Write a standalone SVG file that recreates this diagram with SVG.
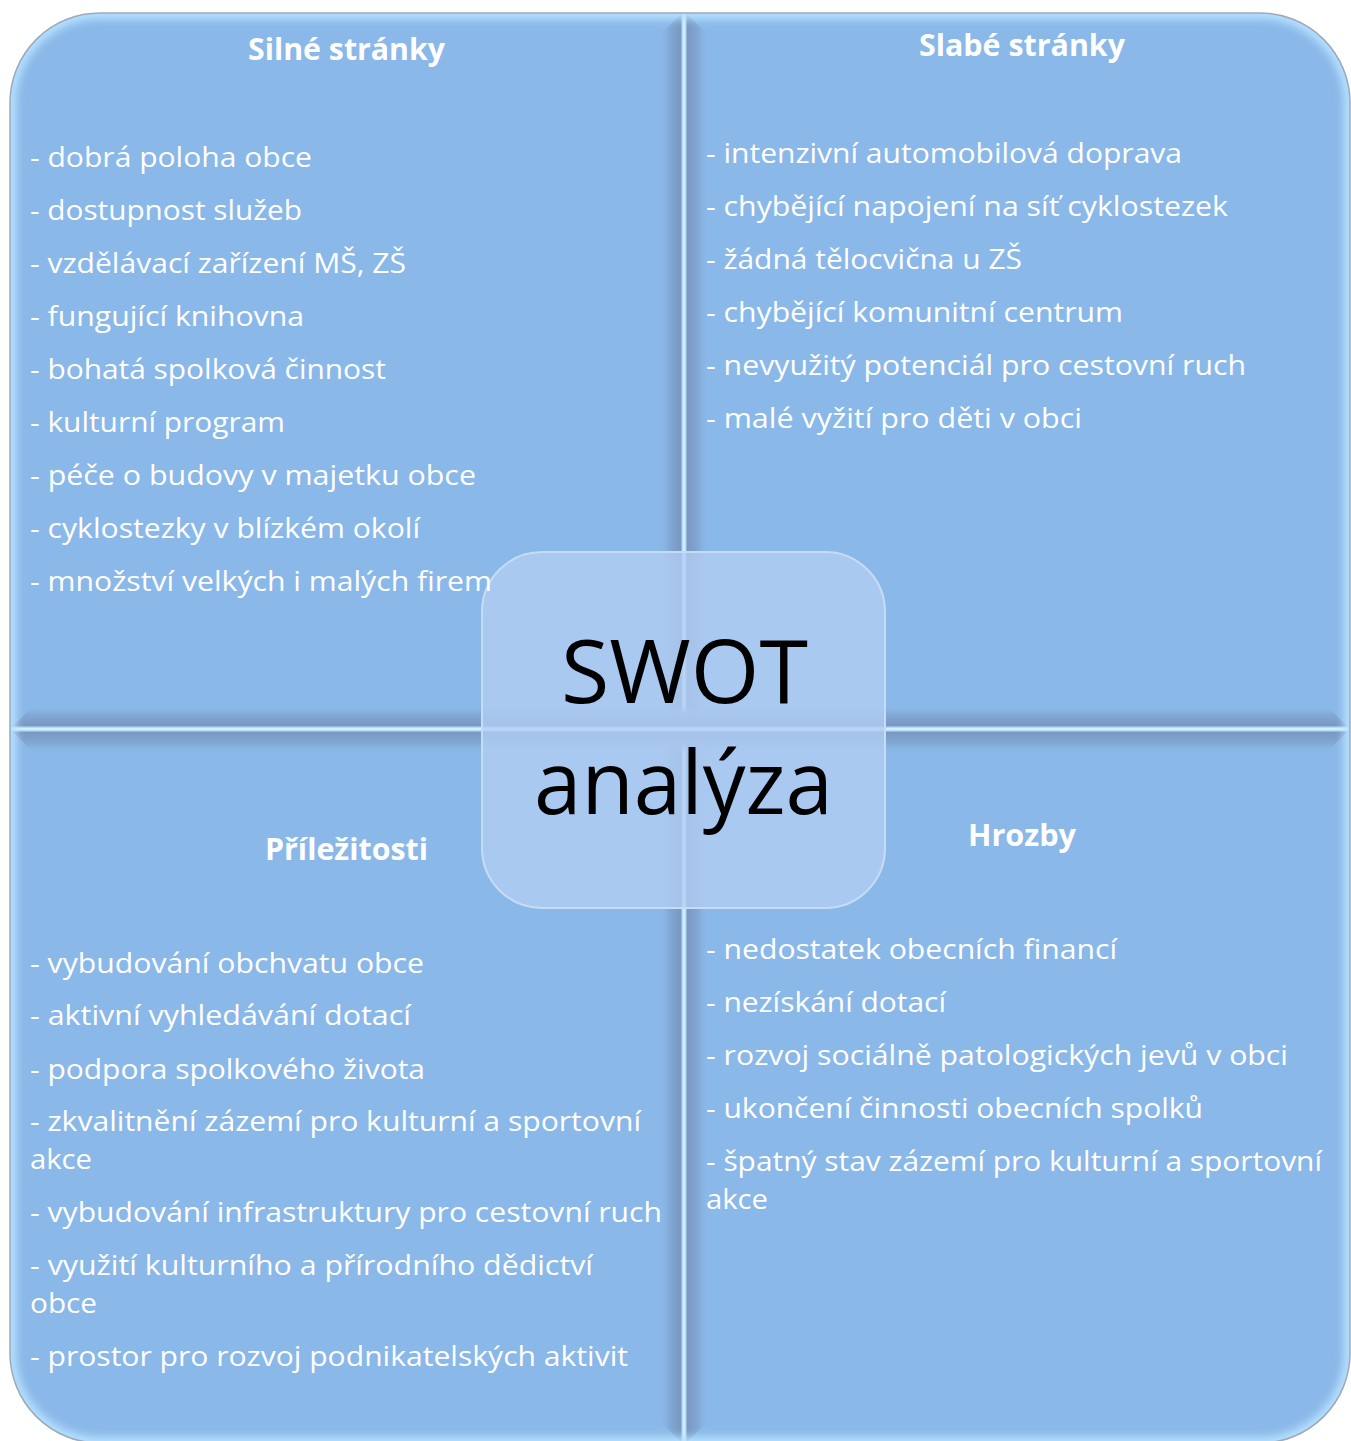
<svg xmlns="http://www.w3.org/2000/svg" width="1351" height="1441" viewBox="0 0 1351 1441">
  <style>
    .q { fill: #8AB8E8; }
    .t { font-family: "Open Sans", "Noto Sans", sans-serif; font-size: 28px; fill: #FFFFFF; }
    .h { font-family: "Open Sans", "Noto Sans", sans-serif; font-size: 31px; font-weight: bold; fill: #FFFFFF; }
    .c { font-family: "Open Sans", "Noto Sans", sans-serif; font-size: 88px; fill: #000000; }
  </style>
  <defs>
    <clipPath id="outerClip">
      <rect x="10" y="13" width="1340" height="1430" rx="90" ry="90"/>
    </clipPath>
    <filter id="blur4" x="-5%" y="-5%" width="110%" height="110%">
      <feGaussianBlur stdDeviation="4"/>
    </filter>
    <linearGradient id="vband" gradientUnits="userSpaceOnUse" x1="660" y1="0" x2="708" y2="0">
      <stop offset="0" stop-color="#8AB8E8" stop-opacity="0"/>
      <stop offset="0.2" stop-color="#82A8D5"/>
      <stop offset="0.43" stop-color="#7898C0"/>
      <stop offset="0.46" stop-color="#A6D2FA"/>
      <stop offset="0.5" stop-color="#E6F7FF"/>
      <stop offset="0.54" stop-color="#A6D2FA"/>
      <stop offset="0.57" stop-color="#7898C0"/>
      <stop offset="0.8" stop-color="#82A8D5"/>
      <stop offset="1" stop-color="#8AB8E8" stop-opacity="0"/>
    </linearGradient>
    <linearGradient id="hband" gradientUnits="userSpaceOnUse" x1="0" y1="705" x2="0" y2="753">
      <stop offset="0" stop-color="#8AB8E8" stop-opacity="0"/>
      <stop offset="0.2" stop-color="#82A8D5"/>
      <stop offset="0.43" stop-color="#7898C0"/>
      <stop offset="0.46" stop-color="#A6D2FA"/>
      <stop offset="0.5" stop-color="#E6F7FF"/>
      <stop offset="0.54" stop-color="#A6D2FA"/>
      <stop offset="0.57" stop-color="#7898C0"/>
      <stop offset="0.8" stop-color="#82A8D5"/>
      <stop offset="1" stop-color="#8AB8E8" stop-opacity="0"/>
    </linearGradient>
  </defs>

  <rect x="0" y="0" width="1351" height="1441" fill="#FFFFFF"/>

  <!-- quadrant shapes -->
  <g id="shapes">
    <path id="q-tl-shape" class="q" d="M10,729 L10,103 A90,90 0 0 1 100,13 L684,13 L684,729 Z"/>
    <path id="q-tr-shape" class="q" d="M684,13 L1260,13 A90,90 0 0 1 1350,103 L1350,729 L684,729 Z"/>
    <path id="q-bl-shape" class="q" d="M10,729 L684,729 L684,1443 L100,1443 A90,90 0 0 1 10,1353 Z"/>
    <path id="q-br-shape" class="q" d="M684,729 L1350,729 L1350,1353 A90,90 0 0 1 1260,1443 L684,1443 Z"/>
  </g>

  <!-- dividers (bevel edges between quadrants) -->
  <g id="connectors" clip-path="url(#outerClip)">
    <polygon points="660,35 684,11 708,35 708,1421 684,1445 660,1421" fill="url(#vband)"/>
    <polygon points="34,705 1326,705 1350,729 1326,753 34,753 10,729" fill="url(#hband)"/>
  </g>

  <!-- outer bevel highlight and outline -->
  <g clip-path="url(#outerClip)">
    <rect x="10" y="13" width="1340" height="1430" rx="90" ry="90" fill="none" stroke="#B8E2FF" stroke-width="12" filter="url(#blur4)"/>
  </g>
  <rect x="10" y="13" width="1340" height="1430" rx="90" ry="90" fill="none" stroke="#9CAABA" stroke-width="1.5"/>

  <!-- center node -->
  <g id="center">
    <rect x="482" y="552" width="403" height="356" rx="60" ry="60" fill="#B2CDF2" fill-opacity="0.8" stroke="#C6DCF6" stroke-width="2"/>
    <text class="c" x="561" y="703" textLength="247" lengthAdjust="spacingAndGlyphs">SWOT</text>
    <text class="c" x="534" y="814" textLength="299" lengthAdjust="spacingAndGlyphs">analýza</text>
  </g>

  <!-- Strengths -->
  <g id="q-tl">
    <text class="h" x="248" y="60" textLength="197" lengthAdjust="spacingAndGlyphs">Silné stránky</text>
    <text class="t" x="30" y="167" textLength="282" lengthAdjust="spacingAndGlyphs">- dobrá poloha obce</text>
    <text class="t" x="30" y="220" textLength="272" lengthAdjust="spacingAndGlyphs">- dostupnost služeb</text>
    <text class="t" x="30" y="273" textLength="376" lengthAdjust="spacingAndGlyphs">- vzdělávací zařízení MŠ, ZŠ</text>
    <text class="t" x="30" y="326" textLength="274" lengthAdjust="spacingAndGlyphs">- fungující knihovna</text>
    <text class="t" x="30" y="379" textLength="356" lengthAdjust="spacingAndGlyphs">- bohatá spolková činnost</text>
    <text class="t" x="30" y="432" textLength="255" lengthAdjust="spacingAndGlyphs">- kulturní program</text>
    <text class="t" x="30" y="485" textLength="446" lengthAdjust="spacingAndGlyphs">- péče o budovy v majetku obce</text>
    <text class="t" x="30" y="538" textLength="390" lengthAdjust="spacingAndGlyphs">- cyklostezky v blízkém okolí</text>
    <text class="t" x="30" y="591" textLength="462" lengthAdjust="spacingAndGlyphs">- množství velkých i malých firem</text>
  </g>

  <!-- Weaknesses -->
  <g id="q-tr">
    <text class="h" x="919" y="56" textLength="206" lengthAdjust="spacingAndGlyphs">Slabé stránky</text>
    <text class="t" x="706" y="163" textLength="476" lengthAdjust="spacingAndGlyphs">- intenzivní automobilová doprava</text>
    <text class="t" x="706" y="216" textLength="522" lengthAdjust="spacingAndGlyphs">- chybějící napojení na síť cyklostezek</text>
    <text class="t" x="706" y="269" textLength="316" lengthAdjust="spacingAndGlyphs">- žádná tělocvična u ZŠ</text>
    <text class="t" x="706" y="322" textLength="417" lengthAdjust="spacingAndGlyphs">- chybějící komunitní centrum</text>
    <text class="t" x="706" y="375" textLength="540" lengthAdjust="spacingAndGlyphs">- nevyužitý potenciál pro cestovní ruch</text>
    <text class="t" x="706" y="428" textLength="376" lengthAdjust="spacingAndGlyphs">- malé vyžití pro děti v obci</text>
  </g>

  <!-- Opportunities -->
  <g id="q-bl">
    <text class="h" x="265" y="860" textLength="163" lengthAdjust="spacingAndGlyphs">Příležitosti</text>
    <text class="t" x="30" y="973" textLength="394" lengthAdjust="spacingAndGlyphs">- vybudování obchvatu obce</text>
    <text class="t" x="30" y="1025" textLength="381" lengthAdjust="spacingAndGlyphs">- aktivní vyhledávání dotací</text>
    <text class="t" x="30" y="1079" textLength="395" lengthAdjust="spacingAndGlyphs">- podpora spolkového života</text>
    <text class="t" x="30" y="1131" textLength="611" lengthAdjust="spacingAndGlyphs">- zkvalitnění zázemí pro kulturní a sportovní</text>
    <text class="t" x="30" y="1169" textLength="62" lengthAdjust="spacingAndGlyphs">akce</text>
    <text class="t" x="30" y="1222" textLength="632" lengthAdjust="spacingAndGlyphs">- vybudování infrastruktury pro cestovní ruch</text>
    <text class="t" x="30" y="1275" textLength="563" lengthAdjust="spacingAndGlyphs">- využití kulturního a přírodního dědictví</text>
    <text class="t" x="30" y="1313" textLength="67" lengthAdjust="spacingAndGlyphs">obce</text>
    <text class="t" x="30" y="1366" textLength="598" lengthAdjust="spacingAndGlyphs">- prostor pro rozvoj podnikatelských aktivit</text>
  </g>

  <!-- Threats -->
  <g id="q-br">
    <text class="h" x="968" y="846" textLength="108" lengthAdjust="spacingAndGlyphs">Hrozby</text>
    <text class="t" x="706" y="959" textLength="411" lengthAdjust="spacingAndGlyphs">- nedostatek obecních financí</text>
    <text class="t" x="706" y="1012" textLength="240" lengthAdjust="spacingAndGlyphs">- nezískání dotací</text>
    <text class="t" x="706" y="1065" textLength="582" lengthAdjust="spacingAndGlyphs">- rozvoj sociálně patologických jevů v obci</text>
    <text class="t" x="706" y="1118" textLength="497" lengthAdjust="spacingAndGlyphs">- ukončení činnosti obecních spolků</text>
    <text class="t" x="706" y="1171" textLength="616" lengthAdjust="spacingAndGlyphs">- špatný stav zázemí pro kulturní a sportovní</text>
    <text class="t" x="706" y="1209" textLength="62" lengthAdjust="spacingAndGlyphs">akce</text>
  </g>
</svg>
